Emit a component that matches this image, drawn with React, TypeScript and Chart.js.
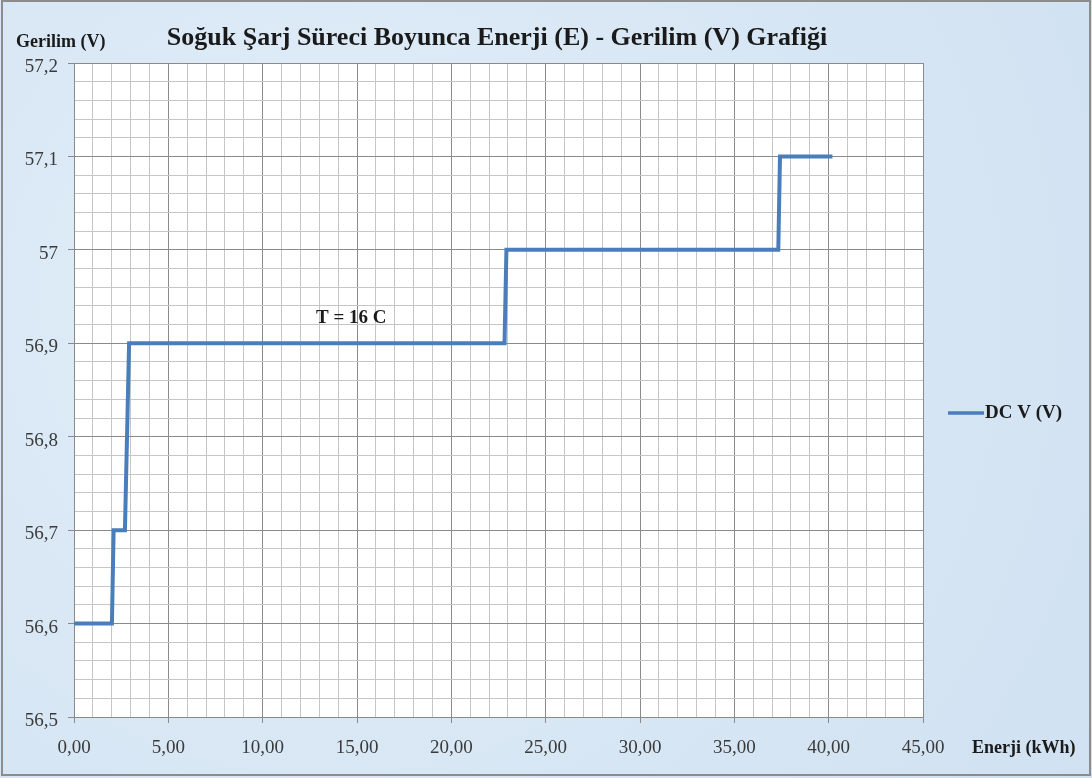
import React, { useEffect, useRef } from "react";
import { Chart, registerables } from "chart.js";

Chart.register(...registerables);

const chartTitle = "Soğuk Şarj Süreci Boyunca Enerji (E) - Gerilim (V) Grafiği";
const yAxisTitle = "Gerilim (V)";
const xAxisTitle = "Enerji (kWh)";
const seriesName = "DC V (V)";
const annotationText = "T = 16 C";

const energyKWh = [0, 2.01, 2.1, 2.7, 2.92, 22.82, 22.92, 37.33, 37.42, 40.2];
const dcVoltage = [56.6, 56.6, 56.7, 56.7, 56.9, 56.9, 57.0, 57.0, 57.1, 57.1];

const xMin = 0;
const xMax = 45;
const xMinorStep = 1;
const xMajorStep = 5;
const yMin = 56.5;
const yMax = 57.2;
const yMinorStep = 0.02;
const yMajorStep = 0.1;
const annotationAt = { x: 14.7, y: 56.927 };

const LINE_COLOR = "#4a7ebb";
const MAJOR_GRID = "#8a8a8a";
const MINOR_GRID = "#c6c6c6";
const SERIF = "'Liberation Serif', 'Times New Roman', serif";

const isMultiple = (v: number, step: number) =>
  Math.abs(v / step - Math.round(v / step)) < 1e-6;

const fmtX = (v: number) => v.toFixed(2).replace(".", ",");
const fmtY = (v: number) => String(Number(v.toFixed(1))).replace(".", ",");

export default function App() {
  const ref = useRef<HTMLCanvasElement | null>(null);

  useEffect(() => {
    document.body.style.margin = "0";
    const canvas = ref.current;
    if (!canvas) return;

    const textPlugin = {
      id: "customText",
      beforeDraw(chart: any) {
        const { ctx, chartArea } = chart;
        ctx.save();
        ctx.fillStyle = "#ffffff";
        ctx.fillRect(
          chartArea.left,
          chartArea.top,
          chartArea.right - chartArea.left,
          chartArea.bottom - chartArea.top
        );
        ctx.restore();
      },
      afterDraw(chart: any) {
        const { ctx, scales } = chart;
        ctx.save();
        ctx.fillStyle = "#1a1a1a";
        ctx.textBaseline = "middle";
        // title
        ctx.font = `bold 26px ${SERIF}`;
        ctx.textAlign = "center";
        ctx.fillText(chartTitle, 497, 38);
        // y axis title
        ctx.font = `bold 18px ${SERIF}`;
        ctx.textAlign = "left";
        ctx.fillText(yAxisTitle, 16, 42);
        // x axis title
        ctx.fillText(xAxisTitle, 972, 748);
        // annotation
        ctx.textAlign = "center";
        ctx.font = `bold 19px ${SERIF}`;
        ctx.fillText(
          annotationText,
          scales.x.getPixelForValue(annotationAt.x),
          scales.y.getPixelForValue(annotationAt.y)
        );
        // legend
        ctx.strokeStyle = LINE_COLOR;
        ctx.lineWidth = 3.5;
        ctx.beginPath();
        ctx.moveTo(948, 413);
        ctx.lineTo(984, 413);
        ctx.stroke();
        ctx.textAlign = "left";
        ctx.font = `bold 19px ${SERIF}`;
        ctx.fillText(seriesName, 985, 413);
        ctx.restore();
      },
    };

    const chart = new Chart(canvas, {
      type: "line",
      data: {
        datasets: [
          {
            label: seriesName,
            data: energyKWh.map((x, i) => ({ x, y: dcVoltage[i] })),
            borderColor: LINE_COLOR,
            backgroundColor: LINE_COLOR,
            borderWidth: 4,
            pointRadius: 0,
            tension: 0,
            fill: false,
          },
        ],
      },
      options: {
        animation: false,
        responsive: false,
        maintainAspectRatio: false,
        layout: { padding: { left: 0, top: 63, right: 169, bottom: 0 } },
        plugins: {
          legend: { display: false },
          title: { display: false },
          tooltip: { enabled: false },
        },
        scales: {
          x: {
            type: "linear",
            min: xMin,
            max: xMax,
            afterFit: (s: any) => {
              s.height = 61;
            },
            border: { color: MAJOR_GRID, width: 1 },
            grid: {
              color: (c: any) =>
                isMultiple(c.tick.value, xMajorStep) ? MAJOR_GRID : MINOR_GRID,
              tickColor: (c: any) =>
                isMultiple(c.tick.value, xMajorStep) ? MAJOR_GRID : "rgba(0,0,0,0)",
              tickLength: 6,
              lineWidth: 1,
            },
            ticks: {
              stepSize: xMinorStep,
              autoSkip: false,
              maxRotation: 0,
              padding: 14,
              color: "#3a3a3a",
              font: { family: SERIF, size: 19 },
              callback: (v: any) => (isMultiple(Number(v), xMajorStep) ? fmtX(Number(v)) : ""),
            },
          },
          y: {
            type: "linear",
            min: yMin,
            max: yMax,
            afterFit: (s: any) => {
              s.width = 74;
            },
            border: { color: MAJOR_GRID, width: 1 },
            grid: {
              color: (c: any) =>
                isMultiple(c.tick.value, yMajorStep) ? MAJOR_GRID : MINOR_GRID,
              tickColor: (c: any) =>
                isMultiple(c.tick.value, yMajorStep) ? MAJOR_GRID : "rgba(0,0,0,0)",
              tickLength: 6,
              lineWidth: 1,
            },
            ticks: {
              stepSize: yMinorStep,
              autoSkip: false,
              padding: 10,
              labelOffset: 4,
              color: "#3a3a3a",
              font: { family: SERIF, size: 19 },
              callback: (v: any) => (isMultiple(Number(v), yMajorStep) ? fmtY(Number(v)) : ""),
            },
          },
        },
      },
      plugins: [textPlugin],
    } as any);

    return () => chart.destroy();
  }, []);

  return (
    <div
      style={{
        position: "relative",
        width: 1092,
        height: 778,
        background:
          "radial-gradient(circle at 30% 40%, #e2eef9 0%, #d7e6f4 60%, #d0e1f1 100%)",
        overflow: "hidden",
      }}
    >
      <div
        style={{
          position: "absolute",
          left: 1,
          top: 0,
          right: 1,
          bottom: 2,
          border: "2px solid #8c8c8c",
          boxSizing: "border-box",
          pointerEvents: "none",
        }}
      />
      <canvas
        ref={ref}
        width={1092}
        height={778}
        style={{ position: "absolute", left: 0, top: 0, width: 1092, height: 778 }}
      />
    </div>
  );
}
